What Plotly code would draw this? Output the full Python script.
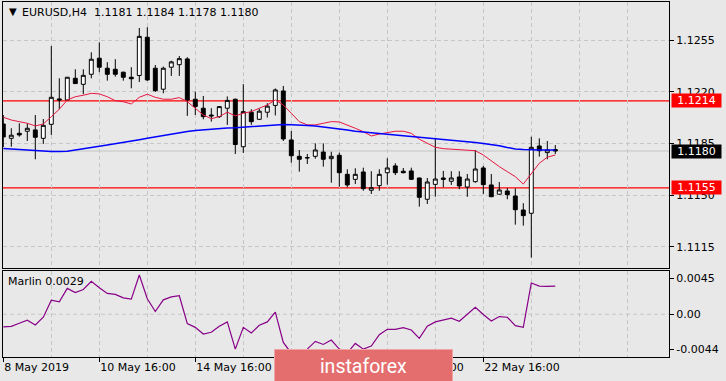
import plotly.graph_objects as go

# ---------------- data ----------------
symbol = "EURUSD,H4"
opens = [1.11983, 1.11886, 1.11920, 1.11934, 1.11943, 1.11886, 1.11981, 1.12153, 1.12146, 1.12293,
         1.12252, 1.12320, 1.12429, 1.12361, 1.12354, 1.12334, 1.12300, 1.12312, 1.12571, 1.12361,
         1.12219, 1.12368, 1.12385, 1.12424, 1.12151, 1.12090, 1.12044, 1.12033, 1.12090, 1.12151,
         1.11829, 1.12063, 1.12015, 1.12063, 1.12109, 1.12207, 1.11875, 1.11764, 1.11753, 1.11764,
         1.11793, 1.11748, 1.11771, 1.11642, 1.11608, 1.11658, 1.11534, 1.11565, 1.11653, 1.11699,
         1.11663, 1.11665, 1.11617, 1.11473, 1.11574, 1.11617, 1.11595, 1.11624, 1.11556, 1.11592,
         1.11685, 1.11570, 1.11507, 1.11529, 1.11495, 1.11400, 1.11378, 1.11834, 1.11789, 1.1181]
highs = [1.12044, 1.11954, 1.11988, 1.11987, 1.12044, 1.12017, 1.12512, 1.12293, 1.12302, 1.12354,
         1.12354, 1.12469, 1.12537, 1.12402, 1.12422, 1.12338, 1.12368, 1.12634, 1.12639, 1.12383,
         1.12372, 1.12412, 1.12444, 1.12436, 1.12202, 1.12173, 1.12090, 1.12105, 1.12170, 1.12155,
         1.12253, 1.12083, 1.12088, 1.12124, 1.12224, 1.12241, 1.11936, 1.11807, 1.11780, 1.11852,
         1.11852, 1.11795, 1.11789, 1.11676, 1.11683, 1.11687, 1.11663, 1.11676, 1.11751, 1.11717,
         1.11685, 1.11687, 1.11620, 1.11617, 1.11884, 1.11665, 1.11663, 1.11663, 1.11644, 1.11807,
         1.11699, 1.11644, 1.11590, 1.11549, 1.11547, 1.11446, 1.11897, 1.11886, 1.11868, 1.1184]
lows = [1.11827, 1.11829, 1.11897, 1.11868, 1.11744, 1.11848, 1.11909, 1.12083, 1.12143, 1.12255,
        1.12185, 1.12293, 1.12334, 1.12277, 1.12304, 1.12277, 1.12225, 1.12268, 1.12275, 1.12200,
        1.12191, 1.12309, 1.12309, 1.12038, 1.12044, 1.12015, 1.11999, 1.12024, 1.11977, 1.11780,
        1.11787, 1.11977, 1.12010, 1.12027, 1.12041, 1.11868, 1.11721, 1.11660, 1.11712, 1.11748,
        1.11694, 1.11585, 1.11558, 1.11554, 1.11576, 1.11531, 1.11509, 1.11531, 1.11572, 1.11637,
        1.11648, 1.11604, 1.11423, 1.11441, 1.11490, 1.11554, 1.11570, 1.11541, 1.11490, 1.11585,
        1.11509, 1.11489, 1.11504, 1.11473, 1.11301, 1.11294, 1.11077, 1.11762, 1.11744, 1.1178]
closes = [1.11895, 1.11907, 1.11909, 1.11954, 1.11893, 1.11974, 1.12164, 1.12146, 1.12300, 1.12257,
          1.12313, 1.12422, 1.12368, 1.12320, 1.12320, 1.12300, 1.12290, 1.12577, 1.12282, 1.12209,
          1.12361, 1.12404, 1.12426, 1.12146, 1.12101, 1.12033, 1.12038, 1.12101, 1.12143, 1.11844,
          1.12067, 1.11999, 1.12070, 1.12104, 1.12214, 1.11882, 1.11768, 1.11744, 1.11755, 1.11807,
          1.11744, 1.11764, 1.11653, 1.11570, 1.11642, 1.11545, 1.11551, 1.11642, 1.11685, 1.11653,
          1.11653, 1.11608, 1.11486, 1.11590, 1.11610, 1.11608, 1.11617, 1.11563, 1.11610, 1.11678,
          1.11572, 1.11490, 1.11536, 1.11504, 1.11402, 1.11362, 1.11825, 1.11802, 1.11807, 1.1180]
ma_fast = [1.12029, 1.12010, 1.11999, 1.11988, 1.11970, 1.11983, 1.12033, 1.12083, 1.12146, 1.12168,
           1.12178, 1.12191, 1.12187, 1.12168, 1.12141, 1.12134, 1.12119, 1.12164, 1.12185, 1.12164,
           1.12151, 1.12151, 1.12162, 1.12134, 1.12090, 1.12044, 1.12019, 1.12033, 1.12063, 1.12038,
           1.12056, 1.12067, 1.12090, 1.12112, 1.12146, 1.12112, 1.12056, 1.11999, 1.11977, 1.11977,
           1.11988, 1.11999, 1.11997, 1.11977, 1.11954, 1.11931, 1.11902, 1.11915, 1.11924, 1.11934,
           1.11934, 1.11920, 1.11880, 1.11852, 1.11825, 1.11816, 1.11812, 1.11807, 1.11802, 1.11802,
           1.11773, 1.11732, 1.11694, 1.11660, 1.11626, 1.11576, 1.11649, 1.11717, 1.11758, 1.11773]
ma_slow = [1.11817, 1.11814, 1.11810, 1.11805, 1.11800, 1.11799, 1.11797, 1.11797, 1.11799, 1.11807,
           1.11817, 1.11824, 1.11833, 1.11841, 1.11849, 1.11858, 1.11868, 1.11877, 1.11887, 1.11897,
           1.11905, 1.11915, 1.11924, 1.11932, 1.11939, 1.11944, 1.11949, 1.11953, 1.11956, 1.11958,
           1.11961, 1.11965, 1.11970, 1.11974, 1.11978, 1.11980, 1.11978, 1.11977, 1.11973, 1.11970,
           1.11964, 1.11958, 1.11951, 1.11943, 1.11934, 1.11929, 1.11924, 1.11919, 1.11915, 1.11911,
           1.11907, 1.11902, 1.11897, 1.11891, 1.11886, 1.11880, 1.11875, 1.11869, 1.11863, 1.11857,
           1.11851, 1.11844, 1.11836, 1.11824, 1.11814, 1.11810, 1.11807, 1.11807, 1.11807, 1.11807]
marlin = [-0.00131, -0.00124, -0.00093, -0.00062, -0.00110, -0.00031, 0.00145, 0.00128, 0.00266, 0.00224,
          0.00255, 0.00338, 0.00273, 0.00214, 0.00204, 0.00169, 0.00155, 0.00404, 0.00159, 0.00028,
          0.00148, 0.00179, 0.00190, -0.00097, -0.00135, -0.00204, -0.00186, -0.00124, -0.00079, -0.00359,
          -0.00135, -0.00193, -0.00114, -0.00079, 0.00021, -0.00290, -0.00400, -0.00420, -0.00359, -0.00279,
          -0.00311, -0.00266, -0.00359, -0.00400, -0.00300, -0.00359, -0.00328, -0.00210, -0.00155, -0.00155,
          -0.00138, -0.00162, -0.00248, -0.00124, -0.00079, -0.00059, -0.00041, -0.00072, -0.00003, 0.00072,
          -0.00003, -0.00069, -0.00024, -0.00031, -0.00117, -0.00135, 0.00321, 0.00290, 0.00286, 0.00290]
levels = [1.1214, 1.1155]
price_ticks = [1.1115, 1.1150, 1.1185, 1.1220, 1.1255]
price_range = [1.11007, 1.12810]
ind_range = [-0.0044, 0.0045]
date_labels = ["8 May 2019", "10 May 16:00", "14 May 16:00", "16 May 16:00", "20 May 16:00", "22 May 16:00"]
date_idx = [0, 12, 24, 36, 48, 60]
watermark = "instaforex"

# ---------------- layout geometry ----------------
W, H = 726, 381
ML, MR, MT, MB = 3, 57, 2, 24
PW, PH = W - ML - MR, H - MT - MB
main_bottom_px, ind_top_px = 268, 270.5


def px2x(px):
    return (px - ML) / PW


def py2y(py):
    return (H - MB - py) / PH


FONT = "DejaVu Sans"
BG = "#E8E8E8"
GRID = "#C6C6C6"
DASH = "4px,3px"

x = list(range(len(opens)))
xr = [(ML - 3.3) / 8.0, (ML + PW - 3.3) / 8.0]
grid_x = list(range(0, 84, 6))

fig = go.Figure()
fig.add_trace(go.Candlestick(
    x=x, open=opens, high=highs, low=lows, close=closes,
    increasing=dict(line=dict(color="black", width=1), fillcolor="white"),
    decreasing=dict(line=dict(color="black", width=1), fillcolor="black"),
    whiskerwidth=0, xaxis="x", yaxis="y", hoverinfo="skip", showlegend=False))
fig.add_trace(go.Scatter(x=x, y=ma_fast, mode="lines", line=dict(color="#E8153F", width=1),
                         xaxis="x", yaxis="y", hoverinfo="skip", showlegend=False))
fig.add_trace(go.Scatter(x=x, y=ma_slow, mode="lines", line=dict(color="#0000FF", width=1.5),
                         xaxis="x", yaxis="y", hoverinfo="skip", showlegend=False))
fig.add_trace(go.Scatter(x=x, y=marlin, mode="lines", line=dict(color="#880088", width=1.2),
                         xaxis="x2", yaxis="y2", hoverinfo="skip", showlegend=False))

shapes = []
shapes.append(dict(type="line", xref="x", yref="y", x0=xr[0], x1=xr[1], y0=closes[-1], y1=closes[-1],
                   line=dict(color="#C4C4C4", width=1), layer="below"))
for lv in levels:
    shapes.append(dict(type="line", xref="x", yref="y", x0=xr[0], x1=xr[1], y0=lv, y1=lv,
                       line=dict(color="#FF0000", width=1.2), layer="below"))
shapes.append(dict(type="line", xref="x2", yref="y2", x0=xr[0], x1=xr[1], y0=0, y1=0,
                   line=dict(color=GRID, width=1, dash=DASH), layer="below"))

ann = []
ann.append(dict(text="\u25BC", x=px2x(7), y=py2y(11.5), xref="paper", yref="paper", xanchor="left",
                yanchor="middle", showarrow=False, font=dict(family=FONT, size=10, color="black")))
ann.append(dict(text=symbol, x=px2x(19.5), y=py2y(12.3), xref="paper", yref="paper", xanchor="left",
                yanchor="middle", showarrow=False, font=dict(family=FONT, size=11, color="black")))
ohlc_txt = "%.4f %.4f %.4f %.4f" % (opens[-1], highs[-1], lows[-1], closes[-1])
ann.append(dict(text=ohlc_txt, x=px2x(92), y=py2y(12.3), xref="paper", yref="paper", xanchor="left",
                yanchor="middle", showarrow=False, font=dict(family=FONT, size=11, color="black")))
ann.append(dict(text="Marlin %.4f" % marlin[-1], x=px2x(6), y=py2y(281.5), xref="paper", yref="paper",
                xanchor="left", yanchor="middle", showarrow=False,
                font=dict(family=FONT, size=11, color="black")))
for val, col in [(levels[0], "#FF0000"), (closes[-1], "#000000"), (levels[1], "#FF0000")]:
    ann.append(dict(text="%.4f" % val, x=px2x(670.5), y=val, xref="paper", yref="y", xanchor="left",
                    yanchor="middle", showarrow=False, bgcolor=col, width=45, height=9, borderpad=2,
                    font=dict(family=FONT, size=11, color="white")))
ann.append(dict(text=watermark, x=px2x(363), y=py2y(366), xref="paper", yref="paper", xanchor="center",
                yanchor="middle", showarrow=False, bgcolor="#E46E6E", bordercolor="#EFA5A5", borderwidth=1,
                width=175, height=30, borderpad=1,
                font=dict(family="Roboto", size=19.5, color="white")))

span = ind_range[1] - ind_range[0]
ind_h_px = (H - MB) - ind_top_px
off = 8.0 / ind_h_px * span
ind_tickvals = [ind_range[1] - off, 0, ind_range[0] + off]
ind_ticktext = ["%.4f" % ind_range[1], "0.00", "%.4f" % ind_range[0]]

fig.update_layout(
    width=W, height=H, margin=dict(l=ML, r=MR, t=MT, b=MB, autoexpand=False),
    paper_bgcolor=BG, plot_bgcolor=BG,
    font=dict(family=FONT, size=11, color="black"),
    showlegend=False, hovermode=False,
    xaxis=dict(domain=[0, 1], anchor="y", range=xr, tickmode="array", tickvals=grid_x,
               showticklabels=False, ticks="", rangeslider=dict(visible=False),
               showline=True, linecolor="black", linewidth=1, mirror=True, zeroline=False,
               showgrid=True, gridcolor=GRID, griddash=DASH, gridwidth=1),
    xaxis2=dict(domain=[0, 1], anchor="y2", range=xr, tickmode="array", tickvals=date_idx,
                ticktext=date_labels, ticks="outside", ticklen=4, tickcolor="black",
                ticklabelposition="outside right", tickfont=dict(family=FONT, size=11),
                showline=True, linecolor="black", linewidth=1, mirror=True, zeroline=False,
                showgrid=True, gridcolor=GRID, griddash=DASH, gridwidth=1,
                minor=dict(tickmode="array", tickvals=grid_x, showgrid=True, gridcolor=GRID,
                           griddash=DASH, gridwidth=1, ticks="")),
    yaxis=dict(domain=[py2y(main_bottom_px), 1], anchor="x", side="right", range=price_range,
               tickmode="array", tickvals=price_ticks, ticktext=["%.4f" % v for v in price_ticks],
               ticks="outside", ticklen=4, tickcolor="black", showline=True, linecolor="black",
               mirror=True, zeroline=False, showgrid=True, gridcolor=GRID, griddash=DASH,
               tickfont=dict(family=FONT, size=11)),
    yaxis2=dict(domain=[0, py2y(ind_top_px)], anchor="x2", side="right", range=ind_range,
                tickmode="array", tickvals=ind_tickvals, ticktext=ind_ticktext,
                ticks="outside", ticklen=4, tickcolor="black", showline=True, linecolor="black",
                mirror=True, zeroline=False, showgrid=False, tickfont=dict(family=FONT, size=11)),
    shapes=shapes, annotations=ann,
)
fig.write_html("out.html", config=dict(displayModeBar=False),
               post_script="document.body.style.margin='0';document.body.style.overflow='hidden';")
